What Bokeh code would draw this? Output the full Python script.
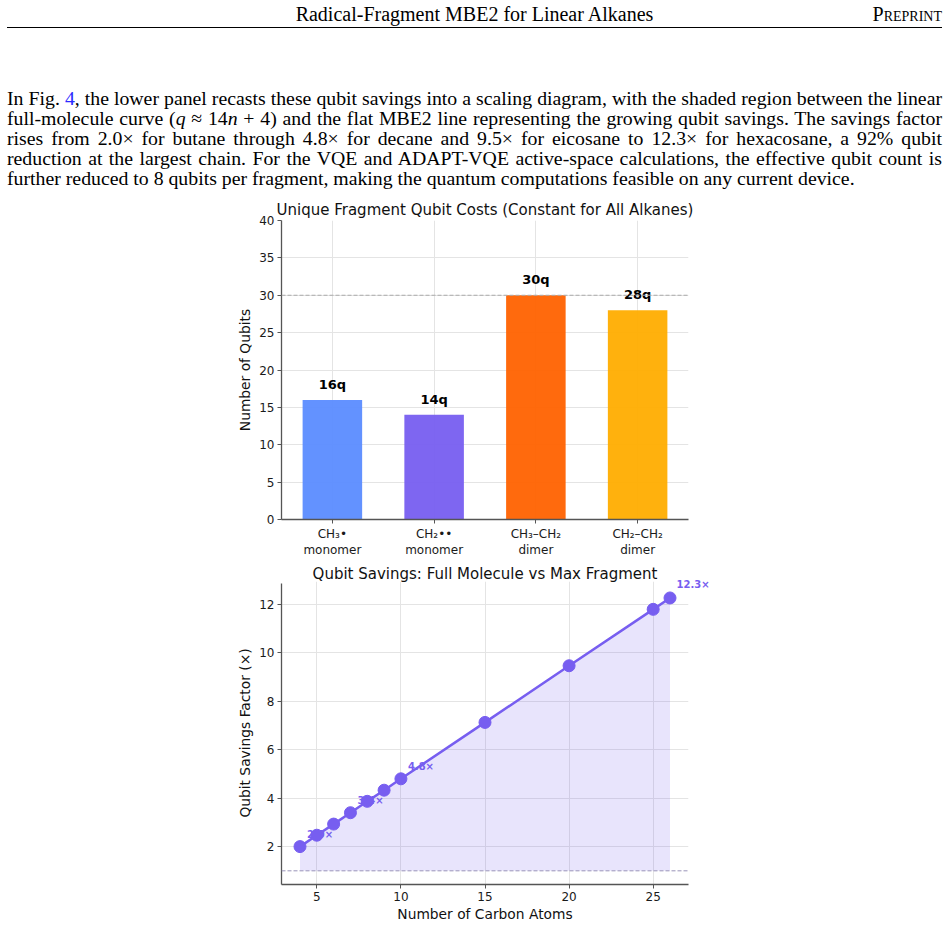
from bokeh.plotting import figure
from bokeh.models import Div, ColumnDataSource, FixedTicker, Span, LabelSet, LinearAxis
from bokeh.layouts import column
from bokeh.core.properties import value
from bokeh.embed import file_html
from bokeh.resources import INLINE

# ---------------- data ----------------
header_title = "Radical-Fragment MBE2 for Linear Alkanes"
header_right = "Preprint"
paragraph_lines = [
    'In Fig. <span style="color:#2b2bff">4</span>, the lower panel recasts these qubit savings into a scaling diagram, with the shaded region between the linear',
    'full-molecule curve (<i>q</i> &asymp; 14<i>n</i> + 4) and the flat MBE2 line representing the growing qubit savings. The savings factor',
    'rises from 2.0&times; for butane through 4.8&times; for decane and 9.5&times; for eicosane to 12.3&times; for hexacosane, a 92% qubit',
    'reduction at the largest chain. For the VQE and ADAPT-VQE active-space calculations, the effective qubit count is',
    'further reduced to 8 qubits per fragment, making the quantum computations feasible on any current device.',
]

fragment_labels = ["CH\u2083\u2022\nmonomer", "CH\u2082\u2022\u2022\nmonomer", "CH\u2083\u2013CH\u2082\ndimer", "CH\u2082\u2013CH\u2082\ndimer"]
fragment_pos = [0, 1, 2, 3]
fragment_qubits = [16, 14, 30, 28]
fragment_text = ["16q", "14q", "30q", "28q"]
fragment_colors = ["#5b8cff", "#775ef0", "#ff6200", "#ffad00"]
max_fragment_qubits = 30

carbons = [4, 5, 6, 7, 8, 9, 10, 15, 20, 25, 26]
savings = [2.0, 2.47, 2.93, 3.40, 3.87, 4.33, 4.8, 7.13, 9.47, 11.8, 12.27]
annot_carbons = [4, 7, 10]
annot_savings = [2.0, 3.4, 4.8]
annot_text = ["2.0\u00d7", "3.4\u00d7", "4.8\u00d7"]
last_saving = 12.27
last_text = "12.3\u00d7"
mbe2_baseline = 1.0

PURPLE = "#775ef0"
FONT = "DejaVu Sans"

# ---------------- page text ----------------
header_html = (
    '<div style="position:relative;width:949px;height:88px;font-family:\'Liberation Serif\',serif;color:#000;">'
    '<div style="position:absolute;left:0;top:2px;width:949px;text-align:center;font-size:20px;line-height:24px;">'
    + header_title + '</div>'
    '<div style="position:absolute;right:7px;top:2px;font-size:20px;line-height:24px;font-variant:small-caps;">'
    + header_right + '</div>'
    '<div style="position:absolute;left:7px;top:27px;width:935px;height:0;border-top:1.3px solid #000;"></div>'
    '</div>'
)
header = Div(text=header_html, width=949, height=88, margin=(0, 0, 0, 0))

lines_html = ""
for i, ln in enumerate(paragraph_lines):
    last = i == len(paragraph_lines) - 1
    if last:
        lines_html += '<div style="text-align:left;width:935px;white-space:nowrap;">%s</div>' % ln
    else:
        lines_html += '<div style="text-align:justify;text-align-last:justify;width:935px;">%s</div>' % ln
para_html = (
    '<div style="position:relative;left:7px;width:935px;font-family:\'Liberation Serif\',serif;'
    'font-size:19.8px;line-height:20px;color:#000;">' + lines_html + '</div>'
)
para = Div(text=para_html, width=949, height=107, margin=(0, 0, 0, 0))

# ---------------- top chart ----------------
p1 = figure(width=949, height=365, x_range=(-0.5, 3.5), y_range=(0, 40),
            output_backend="svg", toolbar_location=None,
            min_border_left=279, min_border_right=261, min_border_top=25, min_border_bottom=40)
src1 = ColumnDataSource(dict(x=fragment_pos, top=fragment_qubits, color=fragment_colors,
                             label=fragment_text))
p1.vbar(x="x", top="top", width=0.585, color="color", fill_alpha=0.95, line_alpha=0, source=src1)
p1.text(x="x", y="top", text="label", source=src1, y_offset=-8,
        text_align="center", text_baseline="bottom", text_font_size="13px",
        text_font_style="bold", text_font=value(FONT), text_color="#000000")
p1.add_layout(Span(location=max_fragment_qubits, dimension="width", line_color="#aaaaaa",
                   line_dash="4 2", line_width=1))

p1.title.text = "Unique Fragment Qubit Costs (Constant for All Alkanes)"
p1.title.standoff = 3
p1.xaxis.ticker = FixedTicker(ticks=fragment_pos)
p1.xaxis.major_label_overrides = {i: lab for i, lab in zip(fragment_pos, fragment_labels)}
p1.yaxis.ticker = FixedTicker(ticks=[0, 5, 10, 15, 20, 25, 30, 35, 40])
p1.yaxis.axis_label = "Number of Qubits"

# ---------------- bottom chart ----------------
Y0, Y1 = 0.435, 12.95
FRAME_H = 368 - 21 - 44
p2 = figure(width=949, height=368, x_range=(2.9, 27.1), y_range=(Y0, Y1),
            output_backend="svg", toolbar_location=None,
            min_border_left=281, min_border_right=261, min_border_top=21, min_border_bottom=44)
p2.varea(x=carbons, y1=[mbe2_baseline] * len(carbons), y2=savings, fill_color=PURPLE, fill_alpha=0.17)
p2.add_layout(Span(location=mbe2_baseline, dimension="width", line_color="#9a94b8",
                   line_dash="4 2", line_width=1))
src_ann = ColumnDataSource(dict(x=annot_carbons, y=annot_savings, t=annot_text))
p2.add_layout(LabelSet(x="x", y="y", text="t", source=src_ann, x_offset=7, y_offset=12,
                       text_align="left", text_baseline="middle", text_font=value(FONT),
                       text_font_size="10px", text_font_style="bold", text_color=PURPLE,
                       level="underlay"))
p2.line(carbons, savings, line_color=PURPLE, line_width=2.5)
p2.scatter(carbons, savings, size=12, fill_color=PURPLE, line_color=PURPLE)

# label for the last point, drawn as an unclipped right-side axis label
lift = 13 * (Y1 - Y0) / FRAME_H  # 13 px above the point
last_tick = round(last_saving + lift, 4)
ann_axis = LinearAxis(ticker=FixedTicker(ticks=[last_tick]),
                      major_label_overrides={last_tick: last_text},
                      axis_line_color=None, major_tick_line_color=None, minor_tick_line_color=None,
                      major_tick_out=0, major_tick_in=0, major_label_standoff=-12,
                      major_label_text_font=FONT, major_label_text_font_size="10px",
                      major_label_text_font_style="bold", major_label_text_color=PURPLE)
p2.add_layout(ann_axis, "right")

p2.title.text = "Qubit Savings: Full Molecule vs Max Fragment"
p2.title.standoff = -3
p2.xaxis[0].ticker = FixedTicker(ticks=[5, 10, 15, 20, 25])
p2.yaxis[0].ticker = FixedTicker(ticks=[2, 4, 6, 8, 10, 12])
p2.xaxis[0].axis_label = "Number of Carbon Atoms"
p2.yaxis[0].axis_label = "Qubit Savings Factor (\u00d7)"
p2.yaxis[0].bounds = (Y0, 12.87)

for p in (p1, p2):
    p.outline_line_color = None
    p.background_fill_color = "white"
    p.border_fill_color = "white"
    p.title.align = "center"
    p.title.text_font = FONT
    p.title.text_font_size = "15px"
    p.title.text_font_style = "normal"
    p.title.text_color = "#111111"
    for ax in (p.xaxis[0], p.yaxis[0]):
        ax.axis_line_color = "#555555"
        ax.axis_line_width = 1.3
        ax.major_tick_line_color = "#555555"
        ax.major_tick_out = 4
        ax.major_tick_in = 0
        ax.minor_tick_line_color = None
        ax.major_label_standoff = 3
        ax.major_label_text_font = FONT
        ax.major_label_text_font_size = "12px"
        ax.major_label_text_color = "#1a1a1a"
        ax.axis_label_text_font = FONT
        ax.axis_label_text_font_size = "13.8px"
        ax.axis_label_text_font_style = "normal"
        ax.axis_label_text_color = "#111111"
        ax.axis_label_standoff = 4
    p.yaxis[0].axis_label_standoff = 3
    p.xgrid.grid_line_color = "#e4e4e4"
    p.ygrid.grid_line_color = "#e4e4e4"
p2.xaxis[0].axis_label_standoff = 2

layout = column(header, para, p1, p2, spacing=0)
open("out.html", "w").write(file_html(layout, INLINE))
